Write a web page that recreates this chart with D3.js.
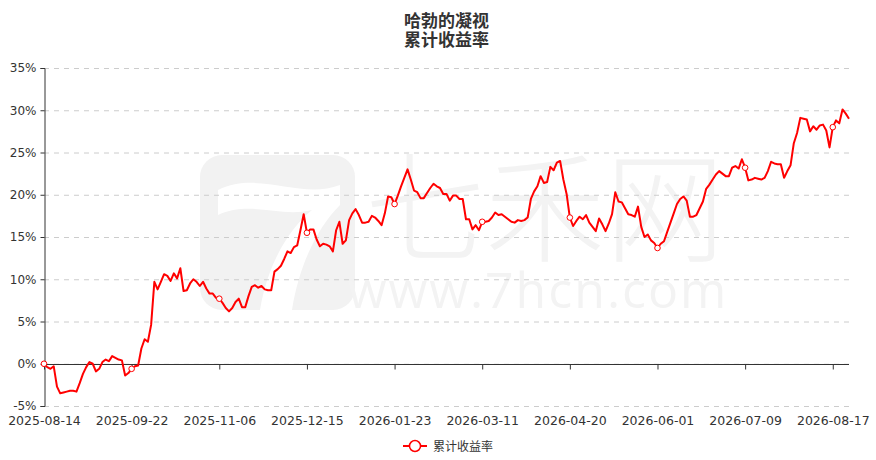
<!DOCTYPE html>
<html>
<head>
<meta charset="utf-8">
<script src="https://cdn.jsdelivr.net/npm/d3@7"></script>
<style>
  html, body { margin: 0; padding: 0; background: #fff; }
  svg { display: block; }
</style>
</head>
<body>
<svg id="chart" width="876" height="460"></svg>
<script>
const titleLines = ["哈勃的凝视", "累计收益率"];
const seriesName = "累计收益率";
const tickLabels = ["2025-08-14","2025-09-22","2025-11-06","2025-12-15","2026-01-23","2026-03-11","2026-04-20","2026-06-01","2026-07-09","2026-08-17"];
const labelInterval = 27;
const yTicks = [-5, 0, 5, 10, 15, 20, 25, 30, 35];
const returns = [
  0, -0.4, -0.6, -0.3, -2.7, -3.5, -3.4, -3.3, -3.2, -3.2,
  -3.3, -2.3, -1.2, -0.4, 0.2, 0.0, -0.9, -0.6, 0.2, 0.5,
  0.3, 0.9, 0.7, 0.5, 0.4, -1.4, -1.1, -0.6, -0.3, -0.2,
  1.8, 2.9, 2.6, 4.6, 9.7, 8.8, 9.7, 10.6, 10.4, 9.8,
  10.7, 10.1, 11.3, 8.6, 8.7, 9.5, 10.0, 9.7, 9.2, 9.7,
  8.9, 8.3, 8.3, 7.8, 7.7, 7.2, 6.6, 6.2, 6.6, 7.3,
  7.7, 6.7, 6.7, 8.0, 9.1, 9.3, 9.0, 9.2, 8.8, 8.7,
  8.7, 10.9, 11.2, 11.6, 12.4, 13.3, 13.1, 13.8, 14.0, 15.8,
  17.7, 15.5, 15.9, 15.9, 14.7, 13.9, 14.2, 14.1, 13.9, 13.3,
  15.8, 16.8, 14.2, 14.6, 17.0, 17.8, 18.3, 17.6, 16.7, 16.7,
  16.8, 17.5, 17.3, 16.9, 16.4, 17.8, 19.8, 19.7, 18.9, 19.9,
  21.0, 22.0, 23.0, 21.8, 20.5, 20.3, 19.6, 19.6, 20.2, 20.8,
  21.3, 21.0, 20.8, 20.1, 20.1, 19.3, 19.9, 19.9, 19.5, 19.5,
  17.1, 17.1, 15.9, 16.4, 15.8, 16.8, 16.8, 16.9, 17.3, 17.9,
  17.6, 17.7, 17.4, 17.1, 16.8, 16.7, 17.0, 16.9, 17.0, 17.3,
  19.5, 20.4, 21.0, 22.2, 21.4, 21.5, 23.3, 22.9, 23.8, 24.0,
  21.8, 20.1, 17.3, 16.3, 16.9, 17.4, 17.1, 17.6, 16.7, 16.2,
  15.7, 17.2, 16.5, 15.7, 16.6, 17.7, 20.3, 19.2, 19.1, 18.4,
  17.7, 17.6, 17.4, 18.6, 16.2, 15.0, 15.3, 14.6, 14.3, 13.7,
  14.2, 14.5, 15.6, 16.7, 17.8, 18.9, 19.5, 19.8, 19.3, 17.4,
  17.4, 17.6, 18.4, 19.2, 20.7, 21.2, 21.8, 22.4, 22.8, 22.5,
  22.2, 22.2, 23.2, 23.4, 23.1, 24.2, 23.2, 21.7, 21.8, 22.0,
  21.9, 21.8, 22.0, 22.8, 23.9, 23.7, 23.6, 23.6, 22.0, 22.8,
  23.5, 26.1, 27.3, 29.1, 29.0, 28.9, 27.5, 28.1, 27.7, 28.2,
  28.3, 27.6, 25.6, 28.0, 28.8, 28.45, 30.1, 29.6, 29.0
];

const svg = d3.select("#chart");
const W = 876, H = 460;
const m = { left: 44, right: 27, top: 68, bottom: 54 };
const x = d3.scaleLinear().domain([0, returns.length - 1]).range([m.left, W - m.right]);
const y = d3.scaleLinear().domain([-5, 35]).range([H - m.bottom, m.top]);
const fontNum = "'DejaVu Sans', sans-serif";
const fontCJK = "'Noto Sans CJK SC', 'DejaVu Sans', sans-serif";

// watermark
const wm = svg.append("g").attr("fill", "#f2f2f2");
wm.append("rect").attr("x", 200).attr("y", 155).attr("width", 155).attr("height", 155).attr("rx", 22);
wm.append("path").attr("fill", "#fff")
  .attr("d", "M218,190 C260,170 300,200 340,185 L340,205 C320,225 300,260 292,310 L260,310 C268,262 290,228 312,210 C280,218 250,200 218,215 Z");
wm.append("text").attr("x", 545).attr("y", 253).attr("text-anchor", "middle")
  .attr("font-family", fontCJK).attr("font-size", 120).attr("font-weight", 300).attr("fill", "#f3f3f3").text("七禾网");
wm.append("text").attr("x", 538).attr("y", 308).attr("text-anchor", "middle")
  .attr("font-family", "'Open Sans', sans-serif").attr("font-size", 50).attr("fill", "#f3f3f3")
  .attr("letter-spacing", 2).text("www.7hcn.com");

// grid
const grid = svg.append("g");
grid.selectAll("line").data(yTicks).join("line")
  .attr("x1", m.left).attr("x2", W - m.right)
  .attr("y1", d => y(d) + 0.5).attr("y2", d => y(d) + 0.5)
  .attr("stroke", "#cccccc").attr("stroke-dasharray", "5,5");

// y axis
const yAxis = svg.append("g").attr("transform", `translate(${m.left + 0.5},0)`)
  .call(d3.axisLeft(y).tickValues(yTicks).tickSize(4).tickPadding(4).tickFormat(d => d + "%"));
yAxis.select(".domain").attr("stroke", "#333");
yAxis.selectAll(".tick line").attr("stroke", "#333");
yAxis.selectAll("text").attr("font-family", fontNum).attr("font-size", 12).attr("fill", "#333");

// x axis at zero
const tickIdx = tickLabels.map((_, i) => i * labelInterval);
const xAxis = svg.append("g").attr("transform", `translate(0,${Math.round(y(0)) + 0.5})`)
  .call(d3.axisBottom(x).tickValues(tickIdx).tickSize(5).tickPadding(47)
    .tickFormat((d, i) => tickLabels[i]));
xAxis.select(".domain").attr("stroke", "#333").attr("d", `M${m.left},0H${W - m.right}`);
xAxis.selectAll(".tick line").attr("stroke", "#333");
xAxis.selectAll("text").attr("font-family", fontNum).attr("font-size", 12.5).attr("fill", "#333");

// line
const line = d3.line().x((d, i) => x(i)).y(d => y(d));
svg.append("path").datum(returns).attr("d", line)
  .attr("fill", "none").attr("stroke", "#ff0000").attr("stroke-width", 2).attr("stroke-linejoin", "round");

// markers
svg.append("g").selectAll("circle").data(tickIdx).join("circle")
  .attr("cx", d => x(d)).attr("cy", d => y(returns[d])).attr("r", 2.8)
  .attr("fill", "#fff").attr("stroke", "#ff0000").attr("stroke-width", 1);

// title
const cx = (m.left + W - m.right) / 2;
svg.append("g").selectAll("text").data(titleLines).join("text")
  .attr("x", cx).attr("y", (d, i) => 27 + i * 19).attr("text-anchor", "middle")
  .attr("font-family", fontCJK).attr("font-size", 17).attr("font-weight", "bold").attr("fill", "#333")
  .text(d => d);

// legend
const lg = svg.append("g").attr("transform", "translate(403,446)");
lg.append("line").attr("x1", 0).attr("x2", 24).attr("y1", 0).attr("y2", 0).attr("stroke", "#ff0000").attr("stroke-width", 2);
lg.append("circle").attr("cx", 12).attr("cy", 0).attr("r", 5.5).attr("fill", "#fff").attr("stroke", "#ff0000").attr("stroke-width", 1.5);
lg.append("text").attr("x", 30).attr("y", 4.5).attr("font-family", fontCJK).attr("font-size", 12).attr("fill", "#333").text(seriesName);
</script>
</body>
</html>
